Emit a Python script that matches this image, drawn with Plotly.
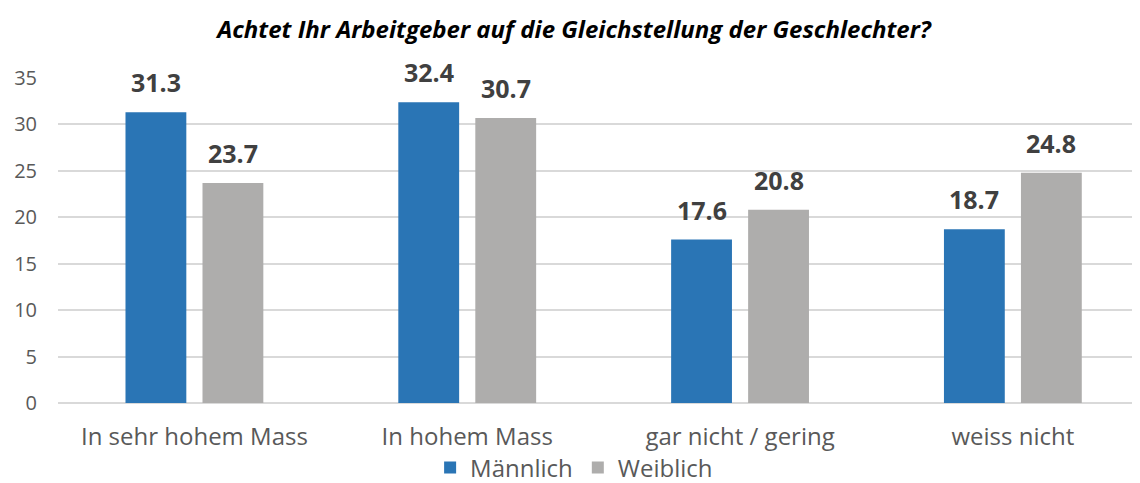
import plotly.graph_objects as go

categories = ["In sehr hohem Mass", "In hohem Mass", "gar nicht / gering", "weiss nicht"]
maennlich = [31.3, 32.4, 17.6, 18.7]
weiblich = [23.7, 30.7, 20.8, 24.8]
y_ticks = [0, 5, 10, 15, 20, 25, 30, 35]

FONT = "Open Sans"
W, H = 1132, 475  # page body has an 8px margin
fig = go.Figure()
series = [("Männlich", maennlich, "#2A75B5", -38.5), ("Weiblich", weiblich, "#AEADAC", 38.5)]
for name, vals, col, dx in series:
    fig.add_trace(go.Bar(
        x=categories, y=vals, name=name, marker_color=col, marker_line_width=0,
    ))
    for c, v in zip(categories, vals):
        fig.add_annotation(x=c, y=v, text=f"<b>{v:.1f}</b>", showarrow=False,
                           xref="x", yref="y", xanchor="center", yanchor="bottom",
                           xshift=dx, yshift=11,
                           font=dict(family=FONT, size=25, color="#404040"))

fig.update_layout(
    width=W, height=H,
    margin=dict(l=50, r=0, t=70, b=80, autoexpand=False),
    paper_bgcolor="white", plot_bgcolor="white",
    barmode="group", bargap=0.4355, bargroupgap=0.21,
    title=dict(text="<b><i>Achtet Ihr Arbeitgeber auf die Gleichstellung der Geschlechter?</i></b>",
               x=0.5, xanchor="center", y=1 - 22 / H, yanchor="middle",
               font=dict(family=FONT, size=24, color="black")),
    font=dict(family=FONT, color="#595959"),
    legend=dict(orientation="h", x=0.477, xanchor="center", yref="container", y=15 / H, yanchor="middle",
                font=dict(family=FONT, size=24, color="#595959"), itemwidth=30,
                traceorder="normal", bgcolor="rgba(0,0,0,0)"),
    showlegend=True,
)
fig.update_yaxes(range=[0, 35], tickvals=y_ticks, showgrid=True, gridcolor="#D9D9D9", gridwidth=2,
                 zeroline=True, zerolinecolor="#D9D9D9", zerolinewidth=2,
                 tickfont=dict(family=FONT, size=20, color="#595959"), ticklabelstandoff=20)
fig.update_xaxes(range=[-0.5, 3.466], tickfont=dict(family=FONT, size=24, color="#595959"),
                 showline=False, ticklabelstandoff=17)
fig.write_html("out.html")
